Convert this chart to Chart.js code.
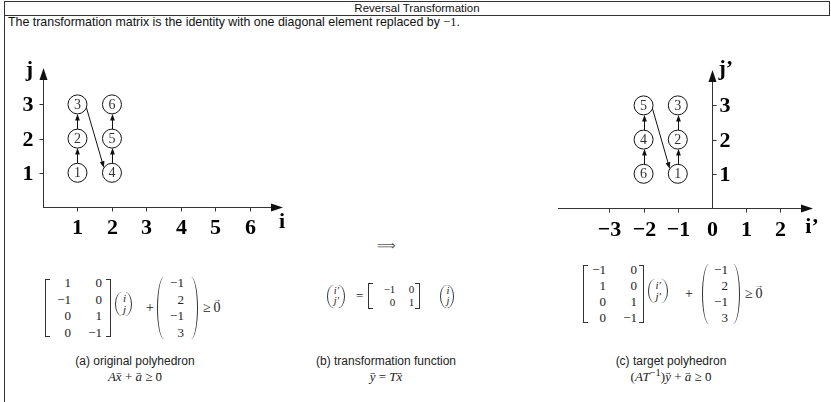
<!DOCTYPE html>
<html><head><meta charset="utf-8">
<script src="https://cdn.jsdelivr.net/npm/chart.js@4.4.1/dist/chart.umd.min.js"></script>
<style>
html,body{margin:0;padding:0;background:#fff;}
#page{position:relative;width:831px;height:402px;overflow:hidden;font-family:"Liberation Sans",Arial,sans-serif;color:#111;}
.abs{position:absolute;}
#titlebox{left:4px;top:1px;width:824px;height:13px;border:1px solid #333;text-align:center;font-size:11.5px;line-height:13px;}
#vline{left:4px;top:15px;width:0;height:387px;border-left:1px solid #333;}
#subtitle{left:8px;top:15px;font-size:12.4px;line-height:14px;white-space:nowrap;}
.m{font-family:"Liberation Serif","Times New Roman",serif;}
canvas{position:absolute;}
#c1{left:0;top:40px;}
#c2{left:540px;top:40px;}
#impl{left:377px;top:239px;font-family:"DejaVu Sans";font-size:13px;line-height:14px;color:#555;}
.eq{position:absolute;display:flex;align-items:center;transform:translateY(-50%);font-family:"Liberation Serif","Times New Roman",serif;color:#222;white-space:nowrap;}
.eq table{border-collapse:collapse;}
.eq td{padding:0;text-align:right;}
.bm,.pm{position:relative;display:inline-block;}
.bm:before,.bm:after{content:"";position:absolute;top:var(--in);bottom:var(--in);width:4px;border:1px solid #333;}
.bm:before{left:0;border-right:none;}
.bm:after{right:0;border-left:none;}
.pm:before,.pm:after{content:"";position:absolute;top:var(--in);bottom:var(--in);width:6px;}
.pm:before{left:0;border-left:1.2px solid #333;border-radius:100% 0 0 100% / 50% 0 0 50%;}
.pm:after{right:0;border-right:1.2px solid #333;border-radius:0 100% 100% 0 / 0 50% 50% 0;}
.op{display:inline-block;}
.cap{position:absolute;width:240px;text-align:center;font-size:12px;line-height:14px;white-space:nowrap;color:#222;}
.cap2{font-family:"Liberation Serif","Times New Roman",serif;font-size:13px;}
.v{position:relative;display:inline-block;}
.v:after{content:"\2192";position:absolute;left:-2px;right:-2px;text-align:center;top:-0.55em;font-size:0.6em;font-style:normal;}
</style></head>
<body><div id="page">
<div id="titlebox" class="abs">Reversal Transformation</div>
<div id="vline" class="abs"></div>
<div id="subtitle" class="abs">The transformation matrix is the identity with one diagonal element replaced by <span class="m">−1</span>.</div>
<canvas id="c1" width="300" height="200"></canvas>
<canvas id="c2" width="291" height="200"></canvas>
<div id="impl" class="abs">⟹</div>
<div id="eqA" class="eq" style="left:45px;top:308px;"></div>
<div id="eqB" class="eq" style="left:327px;top:296px;"></div>
<div id="eqC" class="eq" style="left:583px;top:294px;"></div>
<div class="cap" style="left:15px;top:354px;">(a) original polyhedron</div>
<div class="cap cap2" style="left:15px;top:370px;"><i>A</i><i class="v">x</i> + <i class="v">a</i> ≥ <span class="v">0</span></div>
<div class="cap" style="left:266px;top:354px;">(b) transformation function</div>
<div class="cap cap2" style="left:266px;top:370px;"><i class="v">y</i> = <i>T</i><i class="v">x</i></div>
<div class="cap" style="left:551px;top:354px;">(c) target polyhedron</div>
<div class="cap cap2" style="left:551px;top:370px;">(<i>AT</i><sup style="font-size:10.5px;line-height:0;">−1</sup>)<i class="v">y</i> + <i class="v">a</i> ≥ <span class="v">0</span></div>
</div>
<script>
// ---------------- data ----------------
const origLabels = ['1','2','3','4','5','6'];
const origI = [1, 1, 1, 2, 2, 2];
const origJ = [1, 2, 3, 1, 2, 3];
const origLinks = [['1','2'],['2','3'],['3','4'],['4','5'],['5','6']];
const targetLabels = ['1','2','3','4','5','6'];
const targetI = [-1, -1, -1, -2, -2, -2];
const targetJ = [1, 2, 3, 2, 3, 1];
const targetLinks = [['6','4'],['4','5'],['5','1'],['1','2'],['2','3']];
const origITicks = [1, 2, 3, 4, 5, 6];
const origJTicks = [1, 2, 3];
const targetITicks = [-3, -2, -1, 0, 1, 2];
const targetJTicks = [1, 2, 3];
const matA = [['1','0'],['−1','0'],['0','1'],['0','−1']];
const vecA = ['−1','2','−1','3'];
const matT = [['−1','0'],['0','1']];
const matATinv = [['−1','0'],['1','0'],['0','1'],['0','−1']];
const vecIJ = ['i','j'];
const vecIJp = ['i′','j′'];

// ---------------- charts ----------------
const SERIF = '"Liberation Serif","Times New Roman",serif';
const lbl = v => String(v).replace('-', '−');

const linkPlugin = {
  id: 'links',
  beforeDatasetsDraw(chart, args, o) {
    const pts = chart.getDatasetMeta(0).data, ctx = chart.ctx, r = o.r;
    const idx = l => o.labels.indexOf(l);
    ctx.save(); ctx.strokeStyle = '#111'; ctx.fillStyle = '#111'; ctx.lineWidth = 1;
    o.links.forEach(([a, b]) => {
      const A = pts[idx(a)], B = pts[idx(b)];
      let sx, sy, ex, ey;
      if (Math.abs(A.x - B.x) < 1) {
        const s = B.y < A.y ? -1 : 1, x = Math.round(A.x) + 0.5;
        sx = x; sy = A.y + s * r; ex = x; ey = B.y - s * r;
      } else {
        const a1 = o.startAngle * Math.PI / 180, a2 = o.endAngle * Math.PI / 180;
        sx = A.x + r * Math.cos(a1); sy = A.y + r * Math.sin(a1);
        ex = B.x + r * Math.cos(a2); ey = B.y + r * Math.sin(a2);
      }
      const dx = ex - sx, dy = ey - sy, len = Math.hypot(dx, dy), ux = dx / len, uy = dy / len;
      const hl = 6.5, hw = 2.4;
      ctx.beginPath(); ctx.moveTo(sx, sy); ctx.lineTo(ex - ux * hl * 0.7, ey - uy * hl * 0.7); ctx.stroke();
      ctx.beginPath(); ctx.moveTo(ex, ey);
      ctx.lineTo(ex - ux * hl - uy * hw, ey - uy * hl + ux * hw);
      ctx.lineTo(ex - ux * hl + uy * hw, ey - uy * hl - ux * hw);
      ctx.closePath(); ctx.fill();
    });
    ctx.restore();
  },
  afterDatasetsDraw(chart, args, o) {
    const pts = chart.getDatasetMeta(0).data, ctx = chart.ctx;
    ctx.save(); ctx.font = '14px ' + SERIF; ctx.fillStyle = '#333';
    ctx.textAlign = 'center'; ctx.textBaseline = 'middle';
    pts.forEach((p, k) => ctx.fillText(o.labels[k], p.x, p.y + 0.5));
    ctx.restore();
  }
};

const axesPlugin = {
  id: 'axes',
  afterDatasetsDraw(chart, args, o) {
    const ctx = chart.ctx, xs = chart.scales.x, ys = chart.scales.y;
    const px = v => Math.round(xs.getPixelForValue(v)) + 0.5;
    const py = v => Math.round(ys.getPixelForValue(v)) + 0.5;
    const ox = px(0), oy = py(0), L = xs.left, R = xs.right, T = ys.top;
    ctx.save();
    ctx.strokeStyle = '#333'; ctx.fillStyle = '#111'; ctx.lineWidth = 1;
    ctx.beginPath();
    ctx.moveTo(L, oy); ctx.lineTo(R - 6, oy);
    ctx.moveTo(ox, oy); ctx.lineTo(ox, T + 6);
    o.xTicks.forEach(v => { if (v !== 0) { const x = px(v); ctx.moveTo(x, oy); ctx.lineTo(x, oy + o.tick); } });
    o.yTicks.forEach(v => { const y = py(v); ctx.moveTo(ox, y); ctx.lineTo(ox + o.yDir * o.tick, y); });
    ctx.stroke();
    ctx.beginPath(); ctx.moveTo(R, oy); ctx.lineTo(R - 12, oy - 4); ctx.lineTo(R - 12, oy + 4); ctx.closePath(); ctx.fill();
    ctx.beginPath(); ctx.moveTo(ox, T); ctx.lineTo(ox - 4, T + 12); ctx.lineTo(ox + 4, T + 12); ctx.closePath(); ctx.fill();
    ctx.fillStyle = '#000';
    ctx.font = 'bold 22px ' + SERIF;
    ctx.textAlign = 'center'; ctx.textBaseline = 'alphabetic';
    o.xTicks.forEach(v => ctx.fillText(lbl(v), px(v), oy + o.xLabelDy));
    ctx.textAlign = o.yDir < 0 ? 'right' : 'left'; ctx.textBaseline = 'middle';
    o.yTicks.forEach(v => ctx.fillText(lbl(v), ox + o.yDir * o.yLabelDx, py(v) + 1));
    ctx.textBaseline = 'alphabetic';
    ctx.textAlign = 'center'; ctx.fillText(o.xTitle, R + o.xTitleDx, oy + o.xTitleDy);
    ctx.textAlign = o.yTitleAlign; ctx.fillText(o.yTitle, ox + o.yTitleDx, T + o.yTitleDy);
    ctx.restore();
  }
};

function makeChart(id, labels, xs, ys, links, sc, ax) {
  return new Chart(document.getElementById(id), {
    type: 'scatter',
    data: { datasets: [{
      data: xs.map((x, k) => ({ x, y: ys[k] })),
      pointRadius: 9.5, pointHoverRadius: 9.5,
      pointBackgroundColor: '#fff', pointBorderColor: '#111', pointBorderWidth: 1
    }]},
    options: {
      responsive: false, animation: false, events: [],
      layout: { padding: sc.padding },
      scales: {
        x: { type: 'linear', min: sc.xmin, max: sc.xmax, display: false },
        y: { type: 'linear', min: 0, max: sc.ymax, display: false }
      },
      plugins: {
        legend: { display: false }, tooltip: { enabled: false },
        links: { labels, links, r: 9.5, startAngle: 20, endAngle: 212 },
        axes: ax
      }
    },
    plugins: [linkPlugin, axesPlugin]
  });
}

makeChart('c1', origLabels, origI, origJ, origLinks,
  { padding: { left: 43, right: 17, top: 28, bottom: 33 }, xmin: 0, xmax: 6.96, ymax: 4.064 },
  { xTicks: origITicks, yTicks: origJTicks, tick: 4, yDir: -1, xLabelDy: 26, yLabelDx: 10,
    xTitle: 'i', xTitleDx: -1, xTitleDy: 20, yTitle: 'j', yTitleAlign: 'center', yTitleDx: -14, yTitleDy: 8 });

makeChart('c2', targetLabels, targetI, targetJ, targetLinks,
  { padding: { left: 18, right: 18, top: 30, bottom: 32 }, xmin: -4.5, xmax: 2.95, ymax: 4.035 },
  { xTicks: targetITicks, yTicks: targetJTicks, tick: 4, yDir: 1, xLabelDy: 27, yLabelDx: 7,
    xTitle: 'i’', xTitleDx: -1, xTitleDy: 24, yTitle: 'j’', yTitleAlign: 'left', yTitleDx: 6, yTitleDy: 5 });

// ---------------- math blocks ----------------
function table(rows, widths, fs, lh, italic) {
  return '<table>' + rows.map(r => '<tr>' + r.map((c, k) =>
    `<td style="width:${widths[k]}px;font-size:${fs}px;line-height:${lh}px;${italic ? 'font-style:italic;' : ''}">${c}</td>`).join('') + '</tr>').join('') + '</table>';
}
function bmat(rows, widths, o) {
  return `<span class="bm" style="padding:0 ${o.pr}px 0 ${o.pl}px;--in:${o.inset}px;margin-left:${o.ml || 0}px;">${table(rows, widths, o.fs, o.lh)}</span>`;
}
function pvec(items, width, o) {
  return `<span class="pm" style="padding:0 ${o.pr}px 0 ${o.pl}px;--in:${o.inset}px;margin-left:${o.ml || 0}px;top:${o.dy || 0}px;">${table(items.map(c => [c]), [width], o.fs, o.lh, o.italic)}</span>`;
}
function op(t, fs, ml, mr, dy) {
  return `<span class="op" style="font-size:${fs}px;margin:0 ${mr}px 0 ${ml}px;position:relative;top:${dy || 0}px;">${t}</span>`;
}
const geZero = fs => `<span class="op" style="font-size:${fs}px;margin-left:5px;">≥&#8201;<span class="v">0</span></span>`;

document.getElementById('eqA').innerHTML =
  bmat(matA, [21, 31], { pl: 5, pr: 9, fs: 13, lh: 16.5, inset: 4 }) +
  pvec(vecIJ, 5, { pl: 6, pr: 6, fs: 11, lh: 11, inset: -1, ml: 4, dy: -4, italic: true }) +
  op('+', 14, 14, 3) +
  pvec(vecA, 14, { pl: 13, pr: 14, fs: 13, lh: 16.5, inset: 2 }) +
  geZero(14);

document.getElementById('eqB').innerHTML =
  pvec(vecIJp, 6, { pl: 6, pr: 6, fs: 10.5, lh: 10.5, inset: -1, italic: true }) +
  op('=', 13, 11, 5) +
  bmat(matT, [24, 19], { pl: 3, pr: 6, fs: 11, lh: 13, inset: 0 }) +
  pvec(vecIJ, 4, { pl: 5, pr: 5, fs: 10.5, lh: 10.5, inset: -1, ml: 20, italic: true });

document.getElementById('eqC').innerHTML =
  bmat(matATinv, [19, 31], { pl: 4, pr: 7, fs: 13, lh: 16, inset: 3 }) +
  pvec(vecIJp, 6, { pl: 7, pr: 7, fs: 11, lh: 11, inset: -1, ml: 4, dy: -3, italic: true }) +
  op('+', 14, 17, 9) +
  pvec(vecA, 14, { pl: 12, pr: 12, fs: 13, lh: 16, inset: 2 }) +
  geZero(14);
</script>
</body></html>
